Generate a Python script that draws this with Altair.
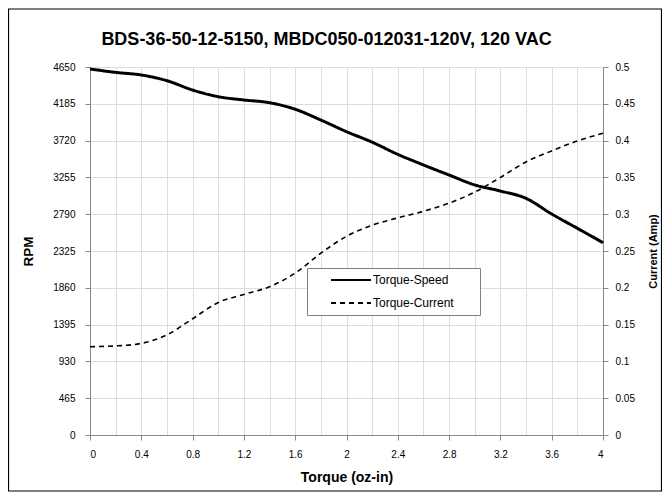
import altair as alt
import pandas as pd

# ---- data ----
torque = [0.0, 0.2, 0.4, 0.6, 0.8, 1.0, 1.2, 1.4, 1.6, 1.8, 2.0,
          2.2, 2.4, 2.6, 2.8, 3.0, 3.2, 3.4, 3.6, 3.8, 4.0]
rpm = [4625, 4582, 4549, 4477, 4359, 4275, 4233, 4199, 4116, 3980, 3833,
       3700, 3546, 3412, 3285, 3160, 3083, 2990, 2792, 2612, 2430]
current = [0.120, 0.121, 0.1245, 0.136, 0.158, 0.180, 0.191, 0.2015, 0.220, 0.247, 0.270,
           0.285, 0.295, 0.304, 0.315, 0.330, 0.350, 0.371, 0.386, 0.3995, 0.410]

series_names = ["Torque-Speed", "Torque-Current"]
x_ticks = [0.0, 0.2, 0.4, 0.6, 0.8, 1.0, 1.2, 1.4, 1.6, 1.8, 2.0,
           2.2, 2.4, 2.6, 2.8, 3.0, 3.2, 3.4, 3.6, 3.8, 4.0]
rpm_ticks = [0, 465, 930, 1395, 1860, 2325, 2790, 3255, 3720, 4185, 4650]
amp_ticks = [0, 0.05, 0.1, 0.15, 0.2, 0.25, 0.3, 0.35, 0.4, 0.45, 0.5]

title_text = "BDS-36-50-12-5150, MBDC050-012031-120V, 120 VAC"
FONT = "Liberation Sans"

speed_df = pd.DataFrame({"torque": torque, "value": rpm, "series": series_names[0]})
current_df = pd.DataFrame({"torque": torque, "value": current, "series": series_names[1]})
frame_df = pd.DataFrame({"k": [0]})

W, H = 513, 368

dash_scale = alt.Scale(domain=series_names, range=[[1, 0], [5, 4]])

major = "round(datum.value * 10) % 4 == 0"

x_enc = alt.X(
    "torque:Q",
    scale=alt.Scale(domain=[0, 4], nice=False, zero=False),
    axis=alt.Axis(
        values=x_ticks,
        format=".1~f",
        labelExpr=f"{major} ? datum.label : ''",
        tickOpacity={"condition": {"test": f"!({major})", "value": 0}, "value": 1},
        grid=True,
        title="Torque (oz-in)",
        titleFontSize=14,
        labelPadding=9,
        titlePadding=11,
    ),
)

legend = alt.Legend(
    title="MM",
    titleOrient="right",
    titleOpacity=0,
    titlePadding=0,
    titleFontSize=12,
    titleFontWeight="normal",
    titleFont=FONT,
    orient="none",
    legendX=217,
    legendY=201,
    symbolType="M-4,0L4,0",
    symbolSize=100,
    symbolStrokeWidth=1.8,
    symbolStrokeColor="black",
    symbolOffset=32,
    labelOffset=16,
    padding=6,
    rowPadding=11,
    strokeColor="#808080",
    fillColor="white",
    labelFontSize=12,
    labelFont=FONT,
    labelColor="black",
)

speed = alt.Chart(speed_df).mark_line(color="black", strokeWidth=3, interpolate="monotone").encode(
    x=x_enc,
    y=alt.Y(
        "value:Q",
        scale=alt.Scale(domain=[0, 4650], nice=False),
        axis=alt.Axis(values=rpm_ticks, format="d", title="RPM", orient="left",
                      titleFontSize=13.5, grid=True, labelPadding=10, titlePadding=17),
    ),
    strokeDash=alt.StrokeDash("series:N", scale=dash_scale, legend=legend),
)

curr = alt.Chart(current_df).mark_line(color="black", strokeWidth=1.6, interpolate="monotone").encode(
    x=x_enc,
    y=alt.Y(
        "value:Q",
        scale=alt.Scale(domain=[0, 0.5], nice=False),
        axis=alt.Axis(values=amp_ticks, format=".2~f", title="Current (Amp)", orient="right",
                      grid=False, labelPadding=7, titlePadding=24, titleAngle=270),
    ),
    strokeDash=alt.StrokeDash("series:N", scale=dash_scale, legend=legend),
)

frame = alt.Chart(frame_df).mark_rect(fill=None, stroke="black", strokeWidth=1.2).encode(
    x=alt.value(-81.5), x2=alt.value(W + 58.5), y=alt.value(-58), y2=alt.value(H + 56),
)

chart = (
    alt.layer(speed, curr, frame)
    .resolve_scale(y="independent")
    .properties(
        width=W,
        height=H,
        autosize=alt.AutoSizeParams(type="none"),
        padding={"left": 82, "top": 59, "right": 59, "bottom": 57},
        title=alt.Title(title_text, fontSize=18, fontWeight="bold", font=FONT, color="black",
                        anchor="middle", frame="group", dx=-20, offset=-41),
    )
    .configure_view(stroke="black", strokeWidth=1)
    .configure_axis(
        labelFont=FONT, labelFontSize=12, labelColor="black",
        titleFont=FONT, titleFontSize=13, titleFontWeight="bold", titleColor="black",
        domainColor="black", domainWidth=1.5,
        tickColor="black", tickSize=5, tickWidth=1,
        gridColor="#7a7a7a", gridWidth=1, gridOpacity=1,
    )
    .configure(background="white")
)

chart.save("out.html", embed_options={"renderer": "svg", "actions": False})
